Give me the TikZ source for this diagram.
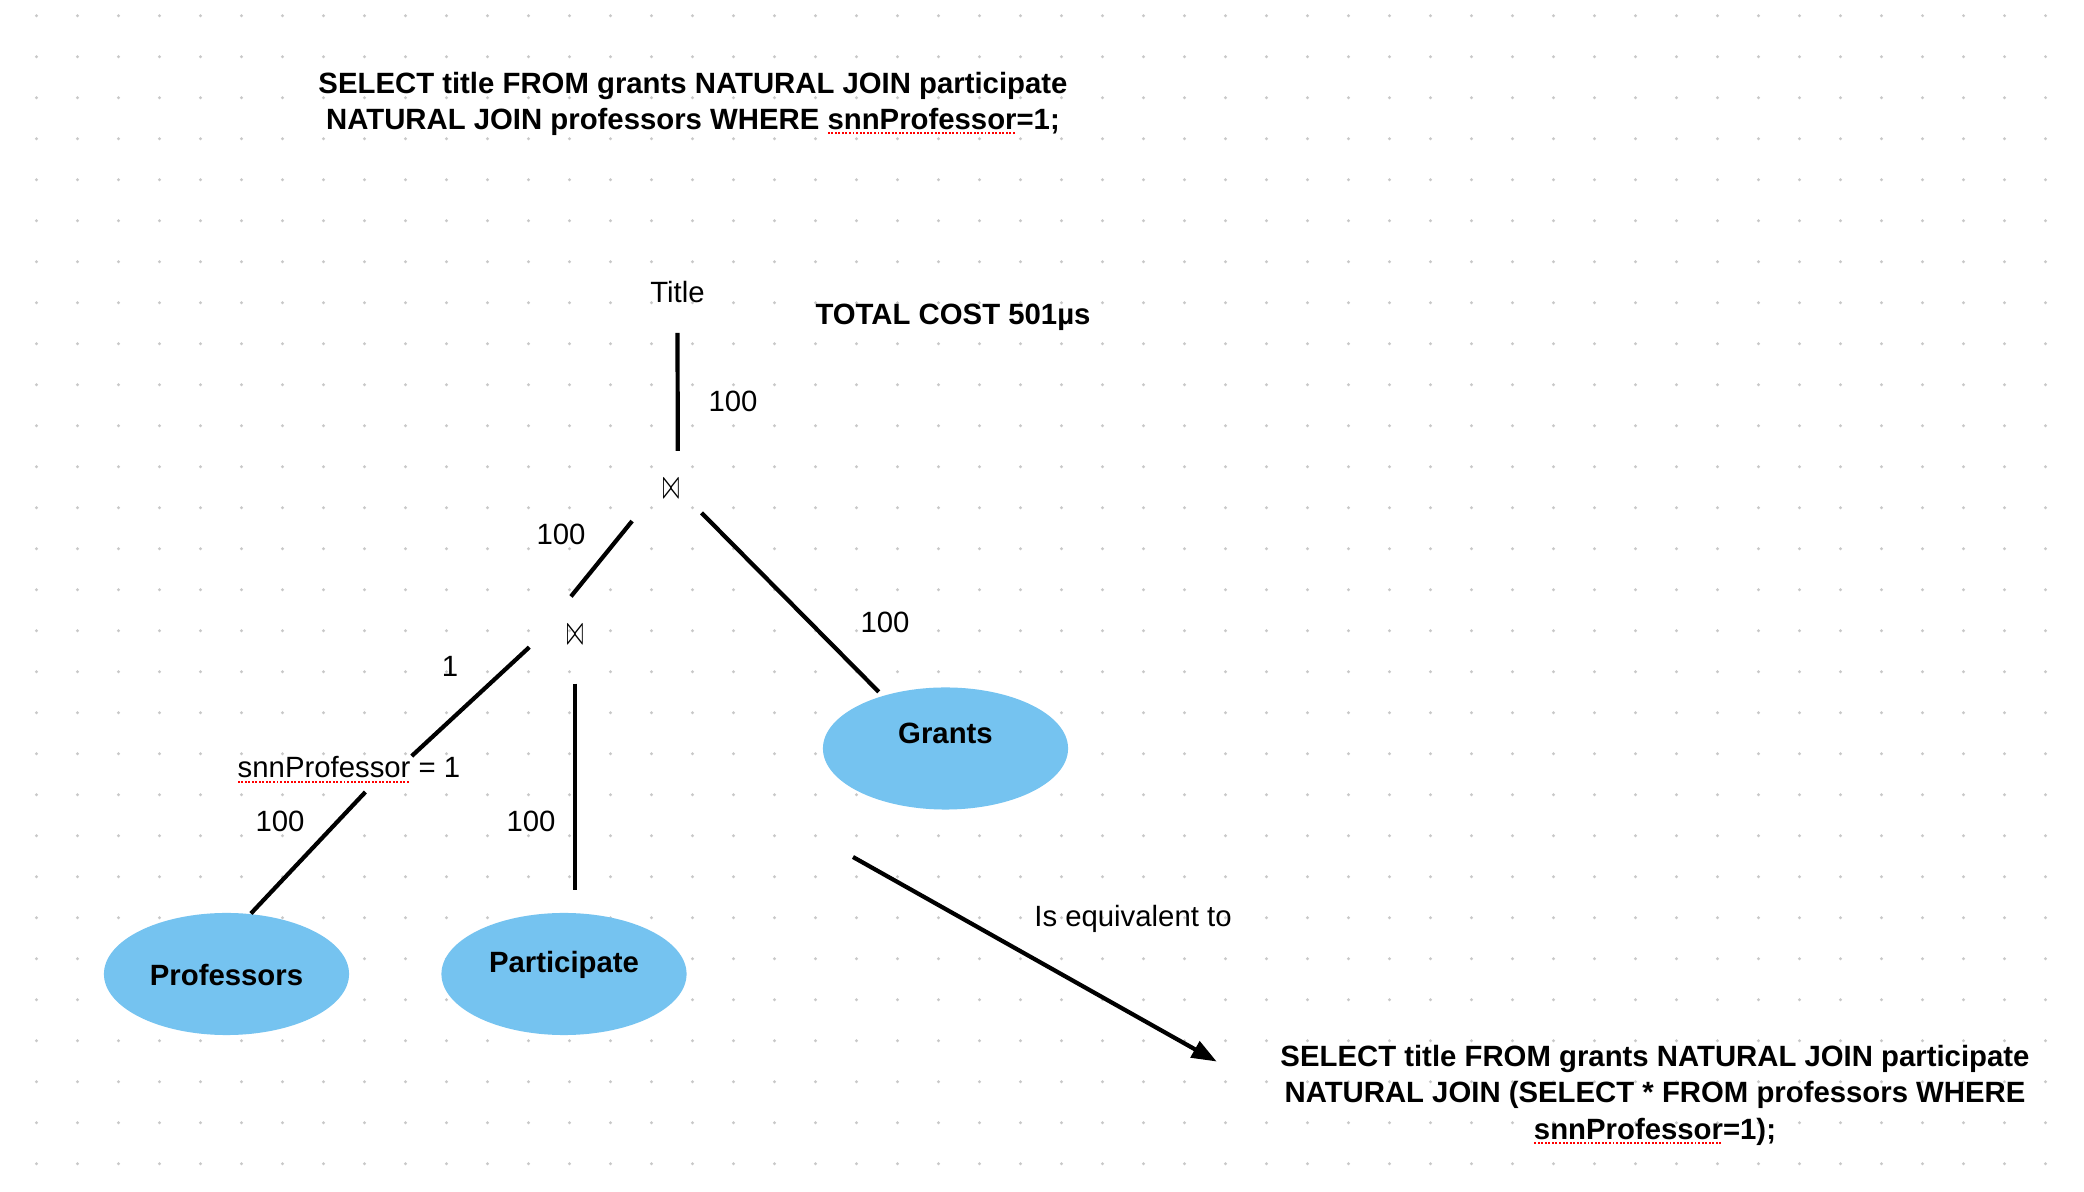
\documentclass[tikz,border=0pt]{standalone}
\usepackage{fontspec}
\setmainfont{Liberation Sans}
\usepackage{xcolor}
\usepackage{graphicx}
\usetikzlibrary{shapes.geometric,arrows.meta,calc}
\definecolor{relblue}{RGB}{117,195,240}
\definecolor{dotgray}{RGB}{200,200,200}
% red dotted spell-check mark
\newsavebox\spellbox
\newcommand\spellmark[1]{\sbox\spellbox{#1}\rlap{\textcolor{red}{\hbox to \wd\spellbox{\xleaders\hbox{\rule[-1.3pt]{0.55pt}{0.55pt}\hskip0.45pt}\hfill}}}\usebox\spellbox}
\newcommand\joinsym{\scalebox{0.8}[1.75]{$\bowtie$}}

\begin{document}
\begin{tikzpicture}[x=0.01cm, y=-0.01cm,
    txt/.style={font=\fontsize{8.34}{10.4}\selectfont, inner sep=0pt, anchor=base},
    boldtxt/.style={txt, font=\fontsize{8.34}{10.4}\selectfont\bfseries},
    sql/.style={font=\fontsize{8.34}{10.4}\selectfont\bfseries, align=center, inner sep=0pt},
    joinop/.style={circle, inner sep=0pt, minimum size=0.76cm, font=\fontsize{6.5}{7}\selectfont},
    relation/.style={ellipse, fill=relblue, inner sep=0pt, minimum width=2.45cm, minimum height=1.22cm, font=\fontsize{8.34}{10.4}\selectfont\bfseries},
    link/.style={line width=1.2pt}]

    % Background dots
    \fill[white] (0,0) rectangle (2084,1192);
    \foreach \i in {0,...,49}
        \foreach \j in {0,...,28}
            \fill[dotgray] (36.5+41*\i, 15.7+41*\j) circle[radius=0.45pt];
    \useasboundingbox (0,0) rectangle (2084,1192);

    % Queries
    \node[sql] (topsql) at (693,103.8) {SELECT title FROM grants NATURAL JOIN participate\\ NATURAL JOIN professors WHERE \spellmark{snnProfessor}=1;};
    \node[sql] (bottomsql) at (1655,1095) {SELECT title FROM grants NATURAL JOIN participate\\ NATURAL JOIN (SELECT * FROM professors WHERE\\ \spellmark{snnProfessor}=1);};
    \node[boldtxt] (cost) at (953,325) {TOTAL COST 501µs};

    % Tree
    \node[txt] (title) at (677.5,303) {Title};
    \node[joinop] (topjoin) at (671,489) {\joinsym};
    \node[joinop] (lowjoin) at (575,635) {\joinsym};
    \node[txt] (select) at (349,778) {\spellmark{snnProfessor} = 1};
    \node[relation, text height=0.22cm, text depth=0cm] (professors) at (226.5,974) {Professors};
    \node[relation, text height=0.21cm, text depth=0.23cm] (participate) at (564,974) {Participate};
    \node[relation, text height=0.21cm, text depth=0.30cm] (grants) at (945.5,748.5) {Grants};

    \draw[link, shorten <=0.29cm] (title.south) -- (topjoin.80);
    \draw[link, shorten <=0.12cm] (topjoin.216) -- (lowjoin.96);
    \draw[link, shorten >=0.05cm] (topjoin.322) -- (grants.140);
    \draw[link, shorten <=0.1cm] (lowjoin.188) -- ($(select.north)!0.56!(select.north east)$);
    \draw[link, shorten <=0.12cm] ($(select.south)!0.22!(select.south east)$) -- (professors.68);
    \draw[link, shorten <=0.1cm, shorten >=0.22cm] (lowjoin.270) -- (lowjoin.270 |- participate.north);

    % Costs
    \node[txt] (costtop) at (733,412) {100};
    \node[txt] (costleft) at (561,545) {100};
    \node[txt] (costgrants) at (885,633) {100};
    \node[txt] (costselect) at (450,677) {1};
    \node[txt] (costprof) at (280,832) {100};
    \node[txt] (costpart) at (531,832) {100};

    % Equivalence
    \coordinate (eqstart) at (853,857);
    \draw[link, -{Triangle[length=0.25cm,width=0.18cm]}] (eqstart) -- ([xshift=-0.63cm,yshift=-0.175cm]bottomsql.north west);
    \node[txt] (eqlabel) at (1133,927) {Is equivalent to};
\end{tikzpicture}
\end{document}
